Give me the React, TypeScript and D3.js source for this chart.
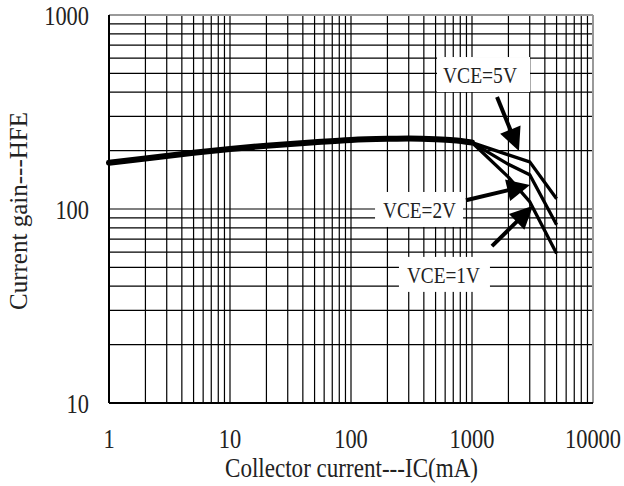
import React from "react";
import * as d3 from "d3";

// ---- data ----
const sharedIc = [1, 2, 5, 10, 20, 50, 100, 200, 300, 500, 700, 1000];
const sharedHfe = [173, 182, 195, 204, 212, 221, 227, 230, 231, 229, 226, 220];

const branchIc = [1000, 2000, 3000, 5000];
const hfe5V = [220, 190, 175, 113];
const hfe2V = [220, 170, 150, 83];
const hfe1V = [220, 146, 109, 59];

const xTicks = [1, 10, 100, 1000, 10000];
const yTicks = [10, 100, 1000];

const labelNames = ["VCE=5V", "VCE=2V", "VCE=1V"];
// label text anchors (data space): [x left, y baseline]
const labelX = [576, 184, 290];
const labelY = [446, 89.9, 41.6];
// arrows in data space: start -> tip
const arrowStartX = [1610, 892, 1462];
const arrowStartY = [378, 111, 64.4];
const arrowTipX = [2445, 3015, 3195];
const arrowTipY = [199, 133, 104];

const W = 624;
const H = 486;
const L = 109, R = 593, T = 15, B = 403;
const FS = { fontFamily: "'Liberation Serif'" };
const SQ = 0.83; // horizontal squeeze of the narrow serif face

export default function App() {
  const x = d3.scaleLog().domain([1, 10000]).range([L, R]);
  const y = d3.scaleLog().domain([10, 1000]).range([B, T]);

  const xGrid: number[] = [];
  for (let d = 1; d < 10000; d *= 10) for (let k = 1; k < 10; k++) xGrid.push(d * k);
  xGrid.push(10000);
  const yGrid: number[] = [];
  for (let d = 10; d < 1000; d *= 10) for (let k = 1; k < 10; k++) yGrid.push(d * k);
  yGrid.push(1000);

  const line = d3
    .line<[number, number]>()
    .x((d) => x(d[0]))
    .y((d) => y(d[1]))
    .curve(d3.curveMonotoneX);
  const lineLin = d3
    .line<[number, number]>()
    .x((d) => x(d[0]))
    .y((d) => y(d[1]));

  const shared = sharedIc.map((v, i) => [v, sharedHfe[i]] as [number, number]);
  const branches = [hfe5V, hfe2V, hfe1V].map((s) =>
    branchIc.map((v, i) => [v, s[i]] as [number, number])
  );

  const labelW = [74, 73, 73];
  const boxPadL = [6, 8, 8];
  const boxPadR = [13, 7, 10];

  const arrows = arrowStartX.map((_, i) => {
    const x0 = x(arrowStartX[i]);
    const y0 = y(arrowStartY[i]);
    const x1 = x(arrowTipX[i]);
    const y1 = y(arrowTipY[i]);
    const dx = x1 - x0;
    const dy = y1 - y0;
    const len = Math.sqrt(dx * dx + dy * dy);
    const ux = dx / len;
    const uy = dy / len;
    const hl = 23;
    const hw = 11;
    const bx = x1 - ux * hl;
    const by = y1 - uy * hl;
    const head = `M${x1},${y1}L${bx - uy * hw},${by + ux * hw}L${bx + uy * hw},${by - ux * hw}Z`;
    return { x0, y0, bx: bx + ux * 2, by: by + uy * 2, head };
  });

  return (
    <svg width={W} height={H} style={{ position: "absolute", left: 0, top: 0, background: "#fff" }}>
      <rect x={0} y={0} width={W} height={H} fill="#fff" />
      {/* grid */}
      {xGrid.map((v, i) => (
        <line key={"gx" + i} x1={x(v)} x2={x(v)} y1={T} y2={B} stroke="#000" strokeWidth={1.2} />
      ))}
      {yGrid.map((v, i) => (
        <line key={"gy" + i} x1={L} x2={R} y1={y(v)} y2={y(v)} stroke="#000" strokeWidth={1.2} />
      ))}
      {/* border */}
      <line x1={L} x2={R} y1={T} y2={T} stroke="#999" strokeWidth={2} />
      <line x1={R} x2={R} y1={T} y2={B} stroke="#999" strokeWidth={2} />
      <line x1={L} x2={L} y1={T} y2={B} stroke="#000" strokeWidth={2} />
      <line x1={L} x2={R} y1={B} y2={B} stroke="#000" strokeWidth={2} />

      {/* label boxes */}
      {labelNames.map((n, i) => (
        <rect
          key={"lb" + i}
          x={x(labelX[i]) - boxPadL[i]}
          y={y(labelY[i]) - 26}
          width={labelW[i] + boxPadL[i] + boxPadR[i]}
          height={35}
          fill="#fff"
        />
      ))}

      {/* curves */}
      {branches.map((b, i) => (
        <path key={"br" + i} d={lineLin(b) || ""} fill="none" stroke="#000" strokeWidth={3.3} strokeLinejoin="miter" />
      ))}
      <path d={line(shared) || ""} fill="none" stroke="#000" strokeWidth={6} strokeLinecap="round" />

      {/* arrows */}
      {arrows.map((a, i) => (
        <g key={"ar" + i}>
          <line x1={a.x0} y1={a.y0} x2={a.bx} y2={a.by} stroke="#000" strokeWidth={4} />
          <path d={a.head} fill="#000" />
        </g>
      ))}

      {/* label text */}
      {labelNames.map((n, i) => (
        <text
          key={"lt" + i}
          x={x(labelX[i])}
          y={y(labelY[i])}
          fontSize={24}
          textLength={labelW[i]}
          lengthAdjust="spacingAndGlyphs"
          fill="#222"
          style={FS}
        >
          {n}
        </text>
      ))}

      {/* y tick labels */}
      {yTicks.map((v, i) => (
        <text
          key={"yt" + i}
          transform={`translate(89,${y(v) + 10}) scale(${SQ},1)`}
          textAnchor="end"
          fontSize={27}
          fill="#222"
          style={FS}
        >
          {String(v)}
        </text>
      ))}
      {/* x tick labels */}
      {xTicks.map((v, i) => {
        const s = String(v);
        const w = s.length * 13.5 * SQ;
        const cx = Math.min(x(v), W - 3 - w / 2);
        return (
          <text
            key={"xt" + i}
            transform={`translate(${cx},448) scale(${SQ},1)`}
            textAnchor="middle"
            fontSize={27}
            fill="#222"
            style={FS}
          >
            {s}
          </text>
        );
      })}

      {/* axis titles */}
      <text x={225} y={477} fontSize={27} textLength={253} lengthAdjust="spacingAndGlyphs" fill="#222" style={FS}>
        Collector current---IC(mA)
      </text>
      <text
        transform="translate(27,310) rotate(-90)"
        x={0}
        y={0}
        fontSize={25}
        textLength={198}
        lengthAdjust="spacingAndGlyphs"
        fill="#222"
        style={FS}
      >
        Current gain---HFE
      </text>
    </svg>
  );
}
